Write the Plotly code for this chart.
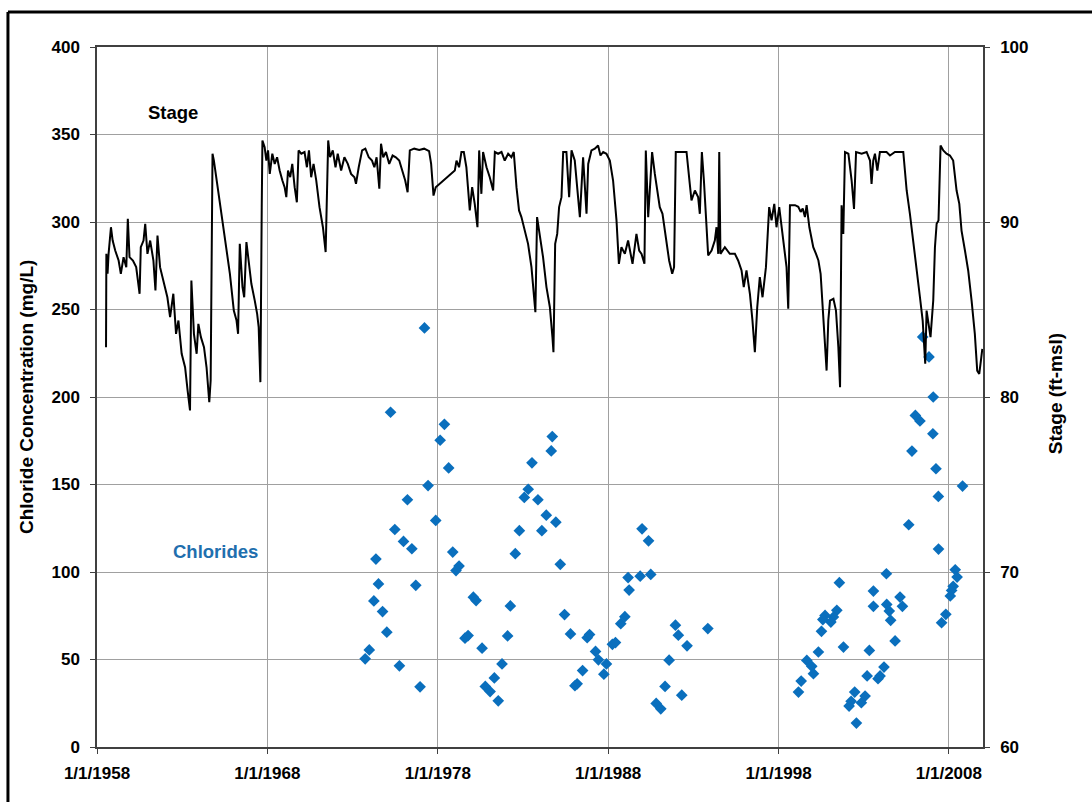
import pandas as pd
import plotly.graph_objects as go

# ---------------- data ----------------
# Stage record (decimal year, stage in ft-msl)
stage_year = [
    1958.53, 1958.55, 1958.62, 1958.68, 1958.82, 1958.92, 1959.07, 1959.27, 1959.40, 1959.56,
    1959.72, 1959.81, 1959.91, 1960.11, 1960.30, 1960.50, 1960.57, 1960.73, 1960.83, 1960.96,
    1961.12, 1961.31, 1961.43, 1961.55, 1961.70, 1961.90, 1962.13, 1962.29, 1962.48, 1962.64,
    1962.78, 1962.97, 1963.17, 1963.32, 1963.46, 1963.54, 1963.69, 1963.85, 1963.95, 1964.10,
    1964.28, 1964.43, 1964.59, 1964.67, 1964.78, 1964.86, 1965.02, 1965.41, 1965.80, 1966.03,
    1966.19, 1966.28, 1966.38, 1966.54, 1966.64, 1966.77, 1966.93, 1967.06, 1967.26, 1967.40,
    1967.49, 1967.59, 1967.67, 1967.71,
    1967.84, 1967.94, 1968.04, 1968.14, 1968.29, 1968.43, 1968.57, 1968.72, 1968.88, 1969.01,
    1969.11, 1969.21, 1969.34, 1969.46, 1969.60, 1969.73, 1969.83, 1969.99, 1970.18, 1970.32,
    1970.44, 1970.57, 1970.71, 1970.87, 1971.06, 1971.26, 1971.42, 1971.49, 1971.57, 1971.68,
    1971.84, 1972.00, 1972.13, 1972.33, 1972.52, 1972.72, 1972.91, 1973.11, 1973.20, 1973.36,
    1973.56, 1973.75, 1973.95, 1974.14, 1974.28, 1974.41, 1974.57, 1974.67, 1974.80, 1974.96,
    1975.15, 1975.35, 1975.54, 1975.74, 1975.93, 1976.09, 1976.23, 1976.36, 1976.62, 1976.91,
    1977.20, 1977.49, 1977.61, 1977.75, 1977.88, 1978.66,
    1979.00, 1979.10, 1979.25, 1979.39, 1979.53, 1979.68, 1979.88, 1980.02, 1980.17, 1980.33,
    1980.43, 1980.56, 1980.66, 1980.86, 1981.05, 1981.25, 1981.35, 1981.54, 1981.74, 1981.93,
    1982.13, 1982.32, 1982.46, 1982.62, 1982.77, 1982.91, 1983.11, 1983.30, 1983.50, 1983.64,
    1983.73, 1983.83, 1983.99, 1984.18, 1984.38, 1984.58, 1984.73, 1984.79, 1984.89, 1985.01,
    1985.12, 1985.26, 1985.36, 1985.55, 1985.71, 1985.85, 1986.04, 1986.18, 1986.34, 1986.53,
    1986.73, 1986.83, 1987.02, 1987.22, 1987.41, 1987.55, 1987.71, 1987.90, 1988.10, 1988.29,
    1988.49, 1988.63, 1988.78, 1988.98, 1989.17, 1989.43, 1989.66, 1989.82, 1989.96, 1990.13,
    1990.21, 1990.35, 1990.45, 1990.58, 1990.74, 1990.88, 1991.03, 1991.19, 1991.39, 1991.58,
    1991.76, 1991.87, 1991.97, 1992.21, 1992.60, 1992.79, 1992.89, 1993.09, 1993.28, 1993.38,
    1993.50, 1993.62, 1993.73, 1993.87, 1994.07, 1994.26, 1994.36, 1994.46, 1994.52, 1994.59,
    1994.85, 1995.14, 1995.44, 1995.63, 1995.83, 1995.96, 1996.12, 1996.32, 1996.47, 1996.61,
    1996.75, 1996.90, 1997.06, 1997.26, 1997.45, 1997.59, 1997.75, 1997.88, 1998.04, 1998.18,
    1998.31, 1998.47, 1998.57,
    1998.67, 1998.97, 1999.16, 1999.30, 1999.42, 1999.55, 1999.65, 1999.81, 1999.95, 2000.04,
    2000.20, 2000.34, 2000.47, 2000.63, 2000.73, 2000.82, 2000.92, 2001.02, 2001.22, 2001.37,
    2001.51, 2001.61, 2001.70, 2001.80, 2001.90, 2002.10, 2002.29, 2002.43, 2002.55, 2002.88,
    2003.17, 2003.37, 2003.46, 2003.56, 2003.66, 2003.80, 2003.95, 2004.34, 2004.54, 2004.83,
    2005.32, 2005.52, 2005.71, 2005.91, 2006.10, 2006.30, 2006.46, 2006.53, 2006.61, 2006.69,
    2006.81, 2006.92, 2007.08, 2007.18, 2007.28, 2007.39, 2007.51, 2007.67, 2007.86, 2008.06,
    2008.25, 2008.45, 2008.61, 2008.74, 2008.94, 2009.13, 2009.33, 2009.52, 2009.66, 2009.78,
    2009.90, 2009.96,
]
stage_ft = [
    82.85, 88.18, 87.04, 88.18, 89.70, 88.94, 88.37, 87.80, 87.04, 87.99,
    87.42, 90.18, 87.99, 87.80, 87.42, 85.90, 88.56, 88.94, 89.90, 88.18,
    88.94, 87.80, 86.09, 89.23, 87.42, 86.66, 85.70, 84.56, 85.90, 83.61,
    84.37, 82.47, 81.70, 80.37, 79.23, 86.66, 83.61, 82.47, 84.18, 83.42,
    82.85, 81.70, 79.70, 80.94, 93.90, 93.51, 92.37, 89.70, 87.04, 84.94,
    84.37, 83.61, 88.75, 86.28, 85.70, 88.85, 87.42, 86.47, 85.51, 84.75,
    83.99, 80.85, 90.85, 94.66,
    94.28, 93.51, 94.09, 92.75, 93.90, 93.32, 93.70, 92.94, 92.37, 91.99,
    91.42, 92.94, 92.56, 93.32, 91.99, 91.13, 94.09, 93.90, 94.00, 93.13,
    94.09, 92.56, 93.32, 92.37, 90.85, 89.70, 88.28, 92.37, 94.66, 93.70,
    94.09, 93.13, 93.90, 92.94, 93.70, 93.32, 92.75, 92.56, 92.18, 93.13,
    94.09, 94.19, 93.70, 93.51, 93.13, 93.70, 91.90, 94.47, 93.70, 94.00,
    93.32, 93.80, 93.70, 93.51, 92.94, 92.37, 91.70, 94.09, 94.19, 94.12,
    94.19, 94.05, 93.32, 91.51, 91.99, 92.66,
    92.94, 93.51, 93.13, 94.00, 94.00, 93.13, 90.66, 91.99, 91.04, 89.70,
    94.09, 91.61, 94.00, 93.13, 92.56, 91.80, 94.00, 93.90, 94.00, 93.51,
    93.90, 93.70, 94.00, 91.99, 90.66, 90.28, 89.51, 88.75, 87.42, 85.90,
    84.85, 90.28, 89.32, 87.99, 86.28, 85.13, 83.42, 82.56, 88.75, 89.32,
    90.85, 91.42, 94.00, 94.00, 91.42, 94.09, 93.51, 91.99, 90.28, 93.70,
    90.47, 93.32, 94.09, 94.19, 94.37, 93.80, 94.00, 93.90, 93.51, 92.37,
    90.09, 87.61, 88.56, 88.18, 88.94, 87.61, 89.32, 88.37, 88.18, 87.61,
    94.09, 90.28, 91.99, 94.00, 92.75, 91.80, 90.85, 90.47, 88.94, 87.80,
    87.04, 87.42, 94.00, 94.00, 94.00, 92.18, 91.23, 91.80, 91.42, 90.47,
    94.00, 92.37, 90.09, 88.09, 88.37, 88.94, 89.70, 88.18, 94.00, 88.18,
    88.56, 88.18, 88.18, 87.80, 87.23, 86.28, 87.23, 85.90, 84.37, 82.56,
    85.13, 86.85, 85.70, 87.42, 90.85, 90.09, 91.04, 89.70, 90.85, 89.70,
    88.94, 87.42, 85.04,
    90.96, 90.96, 90.87, 90.58, 90.77, 90.28, 90.96, 89.70, 88.94, 88.56,
    88.18, 87.80, 87.04, 84.75, 82.85, 81.51, 84.37, 85.51, 85.61, 84.94,
    82.85, 80.56, 90.96, 89.32, 94.00, 93.90, 92.37, 90.75, 94.00, 93.90,
    94.00, 93.51, 92.18, 93.51, 93.90, 92.94, 94.00, 94.00, 93.80, 94.00,
    94.00, 91.80, 90.47, 88.94, 87.42, 85.70, 84.37, 83.42, 81.90, 84.94,
    83.99, 83.42, 85.51, 88.56, 89.90, 90.09, 94.37, 94.09, 93.90, 93.80,
    93.51, 91.80, 91.04, 89.51, 88.37, 87.23, 85.51, 83.61, 81.51, 81.32,
    82.27, 82.75,
]

# Chloride samples (decimal year, mg/L)
cl_year = [
    1977.22, 1975.23, 1978.39, 1978.14, 1978.64, 1977.43, 1976.22, 1977.88, 1975.48, 1975.99,
    1976.48, 1974.37, 1978.88, 1979.25, 1979.07, 1974.52, 1976.71, 1974.25, 1974.76, 1975.01,
    1973.98, 1973.74, 1975.75, 1976.96, 1980.09, 1980.25, 1982.26, 1979.60, 1979.78, 1980.60,
    1982.10, 1981.77, 1981.32, 1980.79, 1981.07, 1981.55, 1983.31, 1983.08, 1983.53, 1984.72,
    1984.66, 1983.88, 1984.37, 1984.93, 1984.11, 1982.79, 1982.55, 1985.19, 1985.44, 1985.79,
    1986.77, 1986.91, 1987.26, 1987.43, 1987.90, 1987.75, 1986.50, 1986.18, 1986.05, 1988.25,
    1988.43, 1988.74, 1988.98, 1989.17, 1989.23,
    1989.99, 1990.37, 1989.88, 1990.50, 1991.95, 1992.12, 1992.63, 1993.85, 1991.58, 1991.34,
    1992.32, 1990.82, 1991.09,
    2006.46, 2006.83, 2007.08, 2006.03, 2006.30, 2007.06, 2005.83, 2007.24, 2008.80, 2007.38,
    2005.64, 2007.39, 2008.37, 2008.48, 2008.25, 2008.16, 2008.08, 2007.82, 2007.57, 2004.33,
    2005.13, 2005.27, 2003.57, 2003.57, 2004.35, 2004.50, 2004.58, 2004.84, 2001.57, 2001.42,
    2001.22, 2001.07, 2000.73, 2000.60, 2000.52, 2000.34, 2001.81, 1999.66, 1999.95, 2000.05,
    1999.33, 1999.17, 2003.33, 2003.20, 2004.19, 2003.96, 2003.84, 2002.47, 2003.08, 2002.86,
    2002.26, 2002.14, 2002.57,
]
cl_mgl = [
    239.5, 191.3, 184.4, 175.3, 159.5, 149.4, 141.3, 129.5, 124.3, 117.5,
    113.3, 107.4, 111.4, 103.4, 100.8, 93.2, 92.4, 83.5, 77.4, 65.6,
    55.5, 50.4, 46.4, 34.4, 85.6, 83.7, 80.6, 62.2, 63.7, 56.5,
    63.5, 47.5, 39.5, 34.6, 31.7, 26.4, 147.3, 142.6, 162.4, 177.4,
    169.2, 141.3, 132.5, 128.5, 123.6, 123.6, 110.5, 104.4, 75.7, 64.6,
    62.5, 64.3, 54.6, 49.8, 47.5, 41.6, 43.7, 36.1, 35.0, 58.7,
    59.7, 70.5, 74.5, 96.8, 89.7,
    124.7, 117.8, 97.6, 98.6, 69.6, 63.9, 57.8, 67.7, 49.6, 34.6,
    29.6, 24.9, 21.8,
    234.3, 222.9, 200.0, 189.5, 186.3, 179.0, 169.1, 159.0, 149.1, 143.2,
    127.0, 113.1, 101.3, 97.1, 91.8, 89.5, 86.3, 75.8, 71.0, 99.0,
    85.7, 80.4, 89.1, 80.4, 81.5, 77.7, 72.4, 60.6, 93.9, 78.1,
    74.3, 71.4, 75.2, 72.8, 66.1, 54.3, 57.1, 49.5, 46.1, 41.9,
    37.7, 31.4, 55.2, 40.6, 45.7, 40.6, 39.0, 31.4, 29.1, 25.3,
    26.1, 23.4, 13.7,
]

x_tick_years = [1958, 1968, 1978, 1988, 1998, 2008]
x_tick_text = ["1/1/1958", "1/1/1968", "1/1/1978", "1/1/1988", "1/1/1998", "1/1/2008"]


def to_date(y):
    yr = int(y)
    start = pd.Timestamp(year=yr, month=1, day=1)
    end = pd.Timestamp(year=yr + 1, month=1, day=1)
    return start + (end - start) * (y - yr)


stage_dates = [to_date(v) for v in stage_year]
cl_dates = [to_date(v) for v in cl_year]
tick_dates = [pd.Timestamp(year=y, month=1, day=1) for y in x_tick_years]

FONT = "Liberation Sans, Arial, sans-serif"
GRID = "#a0a0a0"
AXIS = "#404040"
TICKFONT = dict(family=FONT, size=17, color="black", weight="bold")

fig = go.Figure()
fig.add_trace(go.Scatter(
    x=stage_dates, y=stage_ft, mode="lines", name="Stage",
    line=dict(color="black", width=2), yaxis="y2",
))
fig.add_trace(go.Scatter(
    x=cl_dates, y=cl_mgl, mode="markers", name="Chlorides",
    marker=dict(symbol="diamond", size=9, color="#0a6fbd", line=dict(width=0)),
    yaxis="y",
))

fig.update_layout(
    width=1092, height=802,
    margin=dict(l=97, r=109, t=47, b=55),
    paper_bgcolor="white", plot_bgcolor="white",
    showlegend=False,
    font=dict(family=FONT, size=17, color="black"),
    xaxis=dict(
        type="date",
        range=[pd.Timestamp("1958-01-01"), pd.Timestamp("2010-01-01")],
        tickvals=tick_dates, ticktext=x_tick_text,
        tickfont=TICKFONT, ticklabelstandoff=5,
        showgrid=True, gridcolor=GRID, gridwidth=1,
        showline=True, linecolor=AXIS, linewidth=1.5, mirror=True,
        ticks="outside", ticklen=5, tickcolor=AXIS,
        zeroline=False,
    ),
    yaxis=dict(
        range=[0, 400], dtick=50, tick0=0,
        tickfont=TICKFONT, ticklabelstandoff=7,
        showgrid=True, gridcolor=GRID, gridwidth=1,
        showline=True, linecolor=AXIS, linewidth=1.5,
        ticks="outside", ticklen=5, tickcolor=AXIS,
        zeroline=False,
    ),
    yaxis2=dict(
        range=[60, 100], dtick=10, tick0=60,
        overlaying="y", side="right",
        tickfont=TICKFONT, ticklabelstandoff=7,
        showgrid=False,
        showline=True, linecolor=AXIS, linewidth=1.5,
        ticks="outside", ticklen=5, tickcolor=AXIS,
        zeroline=False,
    ),
    annotations=[
        dict(text="<b>Stage</b>", x=0.0858, y=0.906, xref="paper", yref="paper",
             xanchor="center", yanchor="middle", showarrow=False,
             font=dict(family=FONT, size=18.5, color="black")),
        dict(text="<b>Chlorides</b>", x=0.134, y=0.279, xref="paper", yref="paper",
             xanchor="center", yanchor="middle", showarrow=False,
             font=dict(family=FONT, size=18.5, color="#1f6fae")),
        dict(text="<b>Chloride Concentration (mg/L)</b>", x=-0.0801, y=0.50,
             xref="paper", yref="paper", xanchor="center", yanchor="middle",
             textangle=-90, showarrow=False,
             font=dict(family=FONT, size=19, color="black")),
        dict(text="<b>Stage (ft-msl)</b>", x=1.0813, y=0.504,
             xref="paper", yref="paper", xanchor="center", yanchor="middle",
             textangle=-90, showarrow=False,
             font=dict(family=FONT, size=19, color="black")),
    ],
    shapes=[
        dict(type="line", xref="paper", yref="paper", x0=-0.1005, x1=-0.1005,
             y0=1.05, y1=-0.1, line=dict(color="black", width=3)),
        dict(type="line", xref="paper", yref="paper", x0=-0.1005, x1=1.13,
             y0=1.05, y1=1.05, line=dict(color="black", width=3)),
    ],
)

fig.write_html("out.html")
